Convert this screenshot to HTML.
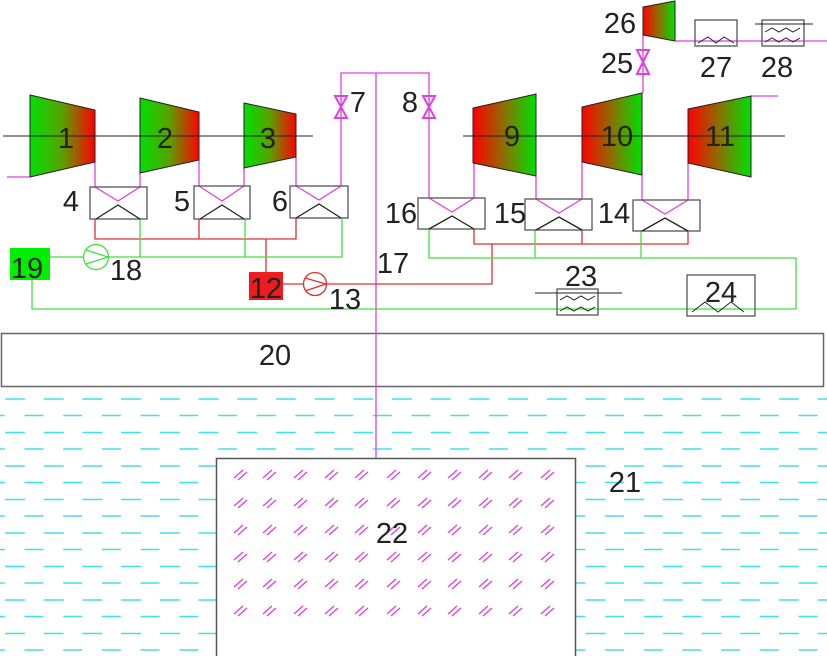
<!DOCTYPE html>
<html><head><meta charset="utf-8"><style>html,body{margin:0;padding:0;background:#fff}svg{display:block}text{font-family:"Liberation Sans",sans-serif;font-size:29px;fill:#222;text-anchor:middle}</style></head>
<body>
<svg width="827" height="656" viewBox="0 0 827 656" xmlns="http://www.w3.org/2000/svg">
<defs>
<linearGradient id="gr" x1="0" x2="1" y1="0" y2="0"><stop offset="0" stop-color="#00e000"/><stop offset="0.5" stop-color="#5aa000"/><stop offset="1" stop-color="#ff0000"/></linearGradient>
<linearGradient id="rg" x1="0" x2="1" y1="0" y2="0"><stop offset="0" stop-color="#ff0000"/><stop offset="0.5" stop-color="#8a7000"/><stop offset="1" stop-color="#00e000"/></linearGradient>
<pattern id="water" x="0" y="390.5" width="38.7" height="33.5" patternUnits="userSpaceOnUse">
<line x1="5" y1="8.5" x2="25" y2="8.5" stroke="#40e0e8" stroke-width="1.5"/>
<line x1="24.5" y1="25" x2="43.5" y2="25" stroke="#40e0e8" stroke-width="1.5"/>
<line x1="-14.2" y1="25" x2="4.8" y2="25" stroke="#40e0e8" stroke-width="1.5"/>
</pattern>
<g id="hatch" stroke="#e040e0" stroke-width="1.3"><line x1="0" y1="8" x2="9" y2="0"/><line x1="4" y1="10" x2="13" y2="2"/></g>
</defs>
<rect x="0" y="390" width="827" height="266" fill="url(#water)"/>
<rect x="1.5" y="333.5" width="822" height="53" fill="#fff" stroke="#666" stroke-width="1.5"/>
<rect x="216.5" y="458.5" width="359" height="200" fill="#fff" stroke="#555" stroke-width="1.5"/>
<g stroke="#e040e0" stroke-width="1.3" fill="none">
<polyline points="7,177 30,177"/>
<line x1="95" y1="162" x2="95" y2="187"/><line x1="140" y1="173" x2="140" y2="187"/>
<line x1="199" y1="160" x2="199" y2="186"/><line x1="244" y1="168" x2="244" y2="186"/>
<line x1="296" y1="157" x2="296" y2="186"/>
<polyline points="341,186 341,73 429,73 429,198"/>
<line x1="376" y1="73" x2="376" y2="458"/>
<line x1="474" y1="163" x2="474" y2="198"/><line x1="536" y1="176" x2="536" y2="199"/>
<line x1="582" y1="162" x2="582" y2="199"/><line x1="642" y1="175" x2="642" y2="200"/>
<line x1="688" y1="163" x2="688" y2="200"/>
<line x1="643" y1="93" x2="643" y2="35"/>
<line x1="751" y1="96" x2="778" y2="96"/>
<line x1="675" y1="41" x2="827" y2="41"/>
<polyline points="95,187 118,201 140,187"/><polyline points="199,186 222,201 244,186"/><polyline points="296,186 319,200 341,186"/>
<polyline points="429,198 452,212 474,198"/><polyline points="536,199 559,213 582,199"/><polyline points="642,200 665,214 688,200"/>
</g>
<g stroke="#e040e0" stroke-width="2" fill="none">
<path d="M335,96 L347,96 L335,118 L347,118 Z"/>
<path d="M423,96 L435,96 L423,118 L435,118 Z"/>
<path d="M637,50 L649,50 L637,74 L649,74 Z"/>
</g>
<g stroke="#e03030" stroke-width="1.3" fill="none">
<polyline points="95,219 95,239 296,239 296,218"/><line x1="199" y1="219" x2="199" y2="239"/>
<line x1="266" y1="239" x2="266" y2="272"/>
<polyline points="283,284 303,284"/><polyline points="327,284 492,284 492,244"/>
<polyline points="474,229 474,244 688,244 688,231"/><line x1="582" y1="230" x2="582" y2="244"/>
<circle cx="315" cy="284" r="11.5"/><polyline points="305,278 326,284 305,291"/>
</g>
<rect x="249" y="272" width="34" height="28" fill="#ee1c1c"/>
<g stroke="#40e040" stroke-width="1.3" fill="none">
<line x1="50" y1="257" x2="83" y2="257"/><polyline points="109,257 342,257 342,218"/>
<line x1="140" y1="219" x2="140" y2="257"/><line x1="245" y1="219" x2="245" y2="257"/>
<polyline points="32,280 32,309 796,309 796,258 429,258 429,229"/>
<line x1="535" y1="230" x2="535" y2="258"/><line x1="641" y1="231" x2="641" y2="258"/>
<circle cx="96" cy="257" r="12.5"/><polyline points="86,250 108,257 86,264"/>
</g>
<rect x="10" y="248" width="40" height="32" fill="#00ee00"/>
<g stroke="#555" stroke-width="1.3" fill="none">
<rect x="90" y="187" width="57" height="32"/><rect x="194" y="186" width="56" height="33"/><rect x="290" y="186" width="58" height="32"/>
<rect x="418" y="198" width="67" height="31"/><rect x="525" y="199" width="67" height="31"/><rect x="633" y="200" width="67" height="31"/>
<g stroke="#222"><polyline points="96,219 118,205 140,219"/><polyline points="200,219 222,205 244,219"/><polyline points="296,218 319,204 341,218"/>
<polyline points="429,229 452,216 474,229"/><polyline points="536,230 559,217 582,230"/><polyline points="642,231 665,218 688,231"/></g>
<rect x="557" y="289" width="41" height="26"/><rect x="687" y="275" width="68" height="41"/>
<rect x="695" y="20" width="42" height="26"/><rect x="762" y="20" width="42" height="26"/>
</g>
<g stroke="#222" stroke-width="1" fill="none">
<line x1="535" y1="293" x2="622" y2="293"/>
<polyline points="560,300 567,296 574,300 581,296 588,300 595,296"/><polyline points="560,311 567,307 574,311 581,307 588,311 595,307"/>
<polyline points="692,312 705,302 718,312 731,302 744,312"/>
<polyline points="698,43 708,37 716,43 724,37 734,43"/>
<line x1="755" y1="24" x2="813" y2="24"/>
<polyline points="765,32 772,28 779,32 786,28 793,32 800,28"/><polyline points="765,42 772,38 779,42 786,38 793,42 800,38"/>
</g>
<g stroke="#222" stroke-width="1">
<polygon points="30,95 95,110 95,162 30,177" fill="url(#gr)"/>
<polygon points="140,98 199,112 199,160 140,173" fill="url(#gr)"/>
<polygon points="244,103 296,114 296,157 244,168" fill="url(#gr)"/>
<polygon points="473,108 536,94 536,176 473,163" fill="url(#rg)"/>
<polygon points="582,107 642,93 642,175 582,162" fill="url(#rg)"/>
<polygon points="688,109 751,96 751,177 688,163" fill="url(#rg)"/>
<polygon points="643,7 675,1 675,41 643,35" fill="url(#rg)"/>
<line x1="3" y1="136" x2="313" y2="136"/><line x1="463" y1="136" x2="785" y2="136"/>
</g>
<g>
<use href="#hatch" x="234" y="470"/><use href="#hatch" x="263" y="470"/><use href="#hatch" x="294" y="470"/><use href="#hatch" x="325" y="470"/><use href="#hatch" x="355" y="470"/><use href="#hatch" x="387" y="470"/><use href="#hatch" x="418" y="470"/><use href="#hatch" x="448" y="470"/><use href="#hatch" x="479" y="470"/><use href="#hatch" x="509" y="470"/><use href="#hatch" x="541" y="470"/>
<use href="#hatch" x="234" y="498"/><use href="#hatch" x="263" y="498"/><use href="#hatch" x="294" y="498"/><use href="#hatch" x="325" y="498"/><use href="#hatch" x="355" y="498"/><use href="#hatch" x="387" y="498"/><use href="#hatch" x="418" y="498"/><use href="#hatch" x="448" y="498"/><use href="#hatch" x="479" y="498"/><use href="#hatch" x="509" y="498"/><use href="#hatch" x="541" y="498"/>
<use href="#hatch" x="234" y="525"/><use href="#hatch" x="263" y="525"/><use href="#hatch" x="294" y="525"/><use href="#hatch" x="325" y="525"/><use href="#hatch" x="355" y="525"/><use href="#hatch" x="387" y="525"/><use href="#hatch" x="418" y="525"/><use href="#hatch" x="448" y="525"/><use href="#hatch" x="479" y="525"/><use href="#hatch" x="509" y="525"/><use href="#hatch" x="541" y="525"/>
<use href="#hatch" x="234" y="552"/><use href="#hatch" x="263" y="552"/><use href="#hatch" x="294" y="552"/><use href="#hatch" x="325" y="552"/><use href="#hatch" x="355" y="552"/><use href="#hatch" x="387" y="552"/><use href="#hatch" x="418" y="552"/><use href="#hatch" x="448" y="552"/><use href="#hatch" x="479" y="552"/><use href="#hatch" x="509" y="552"/><use href="#hatch" x="541" y="552"/>
<use href="#hatch" x="234" y="579"/><use href="#hatch" x="263" y="579"/><use href="#hatch" x="294" y="579"/><use href="#hatch" x="325" y="579"/><use href="#hatch" x="355" y="579"/><use href="#hatch" x="387" y="579"/><use href="#hatch" x="418" y="579"/><use href="#hatch" x="448" y="579"/><use href="#hatch" x="479" y="579"/><use href="#hatch" x="509" y="579"/><use href="#hatch" x="541" y="579"/>
<use href="#hatch" x="234" y="606"/><use href="#hatch" x="263" y="606"/><use href="#hatch" x="294" y="606"/><use href="#hatch" x="325" y="606"/><use href="#hatch" x="355" y="606"/><use href="#hatch" x="387" y="606"/><use href="#hatch" x="418" y="606"/><use href="#hatch" x="448" y="606"/><use href="#hatch" x="479" y="606"/><use href="#hatch" x="509" y="606"/><use href="#hatch" x="541" y="606"/>
</g>
<text x="66" y="148">1</text><text x="165" y="148">2</text><text x="268" y="148">3</text>
<text x="71" y="211">4</text><text x="182" y="211">5</text><text x="280" y="211">6</text>
<text x="358" y="112">7</text><text x="410" y="112">8</text>
<text x="512" y="146">9</text><text x="617" y="146">10</text><text x="720" y="146">11</text>
<text x="266" y="298">12</text><text x="345" y="309">13</text>
<text x="614" y="223">14</text><text x="510" y="223">15</text><text x="401" y="223">16</text>
<text x="393" y="273">17</text><text x="126" y="280">18</text><text x="27" y="278">19</text>
<text x="275" y="365">20</text><text x="625" y="492">21</text><text x="392" y="543">22</text>
<text x="581" y="286">23</text><text x="721" y="302">24</text>
<text x="617" y="73">25</text><text x="620" y="33">26</text><text x="716" y="77">27</text><text x="777" y="77">28</text>
</svg>
</body></html>
